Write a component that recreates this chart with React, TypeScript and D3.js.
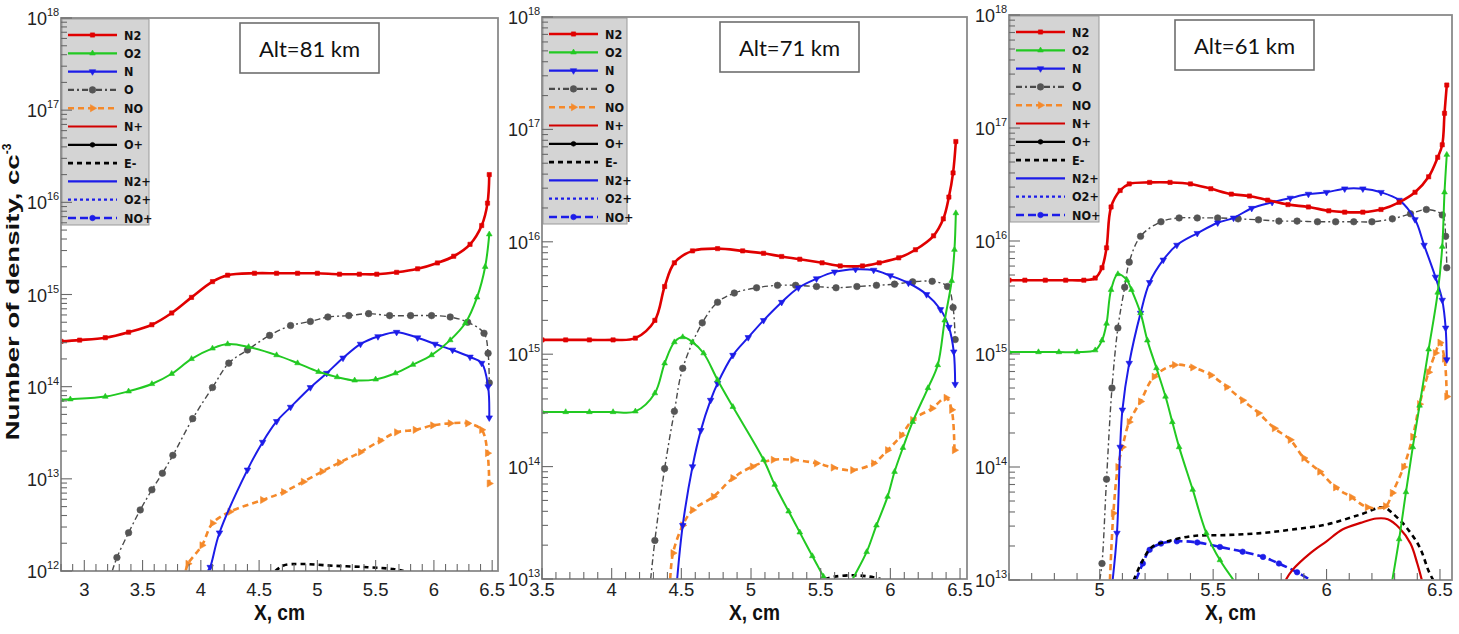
import React from 'react';
import * as d3 from 'd3';

type Pt = [number, number | null];

// ---------- Alt = 81 km ----------
const a81_N2: Pt[] = [[2.8,3.1e14],[2.96,3.2e14],[3.18,3.4e14],[3.38,3.9e14],[3.58,4.7e14],[3.75,6.3e14],[3.92,9.3e14],[4.10,1.38e15],[4.23,1.62e15],[4.46,1.7e15],[4.65,1.7e15],[4.83,1.7e15],[5.00,1.7e15],[5.19,1.66e15],[5.36,1.66e15],[5.51,1.66e15],[5.68,1.74e15],[5.86,1.9e15],[6.03,2.2e15],[6.17,2.6e15],[6.31,3.5e15],[6.41,5.6e15],[6.46,9.8e15],[6.475,2.0e16]];
const a81_O2: Pt[] = [[2.8,7.2e13],[2.88,7.3e13],[3.18,7.8e13],[3.38,8.9e13],[3.58,1.07e14],[3.75,1.38e14],[3.92,2.0e14],[4.10,2.6e14],[4.23,2.9e14],[4.41,2.7e14],[4.65,2.2e14],[4.83,1.8e14],[5.01,1.45e14],[5.17,1.27e14],[5.32,1.17e14],[5.50,1.2e14],[5.67,1.4e14],[5.82,1.73e14],[5.98,2.2e14],[6.14,3.2e14],[6.27,4.9e14],[6.37,9.3e14],[6.44,2.0e15],[6.475,4.5e15]];
const a81_N: Pt[] = [[4.06,1e12],[4.08,1.1e12],[4.16,2.6e12],[4.40,1.25e13],[4.53,2.5e13],[4.65,4.2e13],[4.77,6.0e13],[4.94,9.8e13],[5.08,1.4e14],[5.22,2.05e14],[5.37,2.9e14],[5.52,3.5e14],[5.68,3.9e14],[5.86,3.4e14],[6.01,2.9e14],[6.16,2.5e14],[6.31,2.1e14],[6.41,1.8e14],[6.465,1.0e14],[6.475,4.6e13]];
const a81_O: Pt[] = [[3.24,1e12],[3.28,1.4e12],[3.38,2.6e12],[3.48,4.6e12],[3.58,7.6e12],[3.67,1.15e13],[3.76,1.8e13],[3.93,4.5e13],[4.10,9.8e13],[4.24,1.8e14],[4.40,2.5e14],[4.59,3.6e14],[4.77,4.6e14],[4.94,5.1e14],[5.09,5.7e14],[5.27,5.9e14],[5.44,6.2e14],[5.62,5.9e14],[5.80,5.9e14],[5.98,5.9e14],[6.14,5.7e14],[6.29,5.0e14],[6.43,3.8e14],[6.465,2.3e14],[6.475,1.1e14]];
const a81_NO: Pt[] = [[3.87,1e12],[3.89,1.2e12],[4.01,1.9e12],[4.10,3.3e12],[4.25,4.4e12],[4.53,5.9e12],[4.71,7.2e12],[4.88,9.3e12],[5.04,1.2e13],[5.19,1.5e13],[5.37,1.95e13],[5.54,2.6e13],[5.68,3.2e13],[5.84,3.4e13],[5.99,3.8e13],[6.14,4.0e13],[6.29,4.0e13],[6.41,3.4e13],[6.46,1.9e13],[6.475,8.9e12]];
const a81_E: Pt[] = [[4.64,1.0e12],[4.71,1.15e12],[4.86,1.19e12],[5.14,1.14e12],[5.43,1.1e12],[5.65,1.05e12],[5.74,1.0e12]];

// ---------- Alt = 71 km ----------
const a71_N2: Pt[] = [[3.5,1.34e15],[3.67,1.34e15],[3.84,1.34e15],[4.01,1.34e15],[4.17,1.39e15],[4.31,2.0e15],[4.38,4.0e15],[4.45,6.5e15],[4.58,8.3e15],[4.76,8.7e15],[4.94,8.3e15],[5.09,7.9e15],[5.22,7.4e15],[5.35,7.0e15],[5.51,6.5e15],[5.64,6.1e15],[5.80,6.1e15],[5.92,6.5e15],[6.06,7.2e15],[6.18,8.5e15],[6.31,1.13e16],[6.38,1.6e16],[6.42,2.5e16],[6.45,4.1e16],[6.47,7.8e16]];
const a71_O2: Pt[] = [[3.5,3.06e14],[3.67,3.06e14],[3.84,3.06e14],[4.01,3.06e14],[4.17,3.1e14],[4.31,4.5e14],[4.38,8.3e14],[4.45,1.28e15],[4.51,1.42e15],[4.58,1.28e15],[4.66,1.02e15],[4.76,5.9e14],[4.87,3.4e14],[5.09,1.15e14],[5.17,6.9e13],[5.27,4.0e13],[5.35,2.6e13],[5.44,1.6e13],[5.52,1.05e13],[5.63,5.8e12],[5.73,1e13],[5.83,1.74e13],[5.90,3.0e13],[5.98,5.4e13],[6.03,9.0e13],[6.09,1.47e14],[6.16,2.5e14],[6.27,5.0e14],[6.34,8.0e14],[6.39,2.0e15],[6.44,4.5e15],[6.46,8.5e15],[6.47,1.8e16]];
const a71_N: Pt[] = [[4.47,1e13],[4.51,3.0e13],[4.58,1.0e14],[4.64,2.1e14],[4.71,3.9e14],[4.76,5.5e14],[4.87,9.8e14],[4.98,1.41e15],[5.09,2.0e15],[5.22,2.9e15],[5.34,3.9e15],[5.47,4.7e15],[5.60,5.4e15],[5.75,5.7e15],[5.88,5.6e15],[6.00,5.0e15],[6.13,4.3e15],[6.26,3.4e15],[6.36,2.5e15],[6.42,1.74e15],[6.455,1.05e15],[6.465,5.4e14]];
const a71_O: Pt[] = [[4.28,1e13],[4.31,2.2e13],[4.38,9.6e13],[4.45,3.1e14],[4.51,7.5e14],[4.65,1.9e15],[4.76,2.9e15],[4.88,3.5e15],[5.04,3.9e15],[5.19,4.1e15],[5.32,4.1e15],[5.47,4.0e15],[5.61,3.9e15],[5.76,4.0e15],[5.90,4.1e15],[6.03,4.2e15],[6.16,4.4e15],[6.30,4.45e15],[6.41,4.0e15],[6.45,2.6e15],[6.465,1.35e15]];
const a71_NO: Pt[] = [[4.42,1e13],[4.44,1.7e13],[4.51,3.0e13],[4.58,4.1e13],[4.73,5.4e13],[4.87,7.9e13],[5.01,1.0e14],[5.16,1.15e14],[5.30,1.15e14],[5.47,1.07e14],[5.59,9.8e13],[5.73,9.3e13],[5.88,1.07e14],[5.98,1.4e14],[6.08,1.9e14],[6.16,2.6e14],[6.30,3.3e14],[6.40,4.1e14],[6.44,3.2e14],[6.46,1.4e14]];
const a71_E: Pt[] = [[5.53,1e13],[5.60,1.05e13],[5.73,1.08e13],[5.85,1.05e13],[5.93,1e13]];

// ---------- Alt = 61 km ----------
const a61_N2: Pt[] = [[4.6,4.5e15],[4.67,4.5e15],[4.76,4.5e15],[4.85,4.5e15],[4.93,4.5e15],[4.98,4.7e15],[5.01,5.8e15],[5.03,8.7e15],[5.05,2.0e16],[5.09,2.8e16],[5.13,3.2e16],[5.22,3.3e16],[5.31,3.3e16],[5.40,3.2e16],[5.49,2.9e16],[5.58,2.6e16],[5.66,2.5e16],[5.74,2.3e16],[5.83,2.1e16],[5.92,2.0e16],[6.01,1.85e16],[6.08,1.8e16],[6.16,1.8e16],[6.24,1.9e16],[6.32,2.2e16],[6.39,2.7e16],[6.45,3.7e16],[6.49,5.5e16],[6.51,7.1e16],[6.52,1.35e17],[6.53,2.4e17]];
const a61_O2: Pt[] = [[4.6,1.04e15],[4.73,1.04e15],[4.82,1.04e15],[4.90,1.04e15],[4.98,1.08e15],[5.01,1.32e15],[5.03,1.86e15],[5.05,3.7e15],[5.08,5.1e15],[5.12,4.5e15],[5.14,3.7e15],[5.18,2.3e15],[5.21,1.32e15],[5.25,7.5e14],[5.29,4.2e14],[5.32,2.5e14],[5.35,1.5e14],[5.41,6.3e13],[5.47,2.6e13],[5.53,1.5e13],[5.59,1e13],[5.94,null],[6.29,1e13],[6.32,2.3e13],[6.35,6.0e13],[6.38,1.5e14],[6.41,3.5e14],[6.45,1.1e15],[6.49,3.5e15],[6.51,8.9e15],[6.52,2.7e16],[6.53,5.8e16]];
const a61_N: Pt[] = [[5.057,1e13],[5.076,2.6e13],[5.09,1.5e14],[5.10,3.2e14],[5.13,8.3e14],[5.18,2.3e15],[5.22,4.3e15],[5.28,6.8e15],[5.34,9.2e15],[5.43,1.17e16],[5.52,1.45e16],[5.59,1.6e16],[5.67,1.95e16],[5.76,2.2e16],[5.84,2.4e16],[5.92,2.6e16],[6.00,2.7e16],[6.08,2.9e16],[6.16,2.9e16],[6.24,2.7e16],[6.32,2.3e16],[6.39,1.55e16],[6.43,9.2e15],[6.48,4.8e15],[6.51,3.0e15],[6.525,1.7e15],[6.53,8.9e14]];
const a61_O: Pt[] = [[5.00,1e13],[5.01,1.4e13],[5.03,7.8e13],[5.054,5.0e14],[5.08,1.7e15],[5.11,3.9e15],[5.13,6.5e15],[5.18,1.1e16],[5.27,1.48e16],[5.35,1.6e16],[5.43,1.6e16],[5.52,1.6e16],[5.61,1.57e16],[5.70,1.54e16],[5.79,1.5e16],[5.87,1.5e16],[5.96,1.48e16],[6.04,1.48e16],[6.12,1.48e16],[6.20,1.48e16],[6.29,1.57e16],[6.37,1.74e16],[6.44,1.9e16],[6.51,1.7e16],[6.525,1.1e16],[6.53,5.8e15]];
const a61_NO: Pt[] = [[5.045,1e13],[5.06,3.9e13],[5.08,1.0e14],[5.10,1.5e14],[5.13,2.5e14],[5.18,3.8e14],[5.24,6.3e14],[5.33,8.0e14],[5.41,7.6e14],[5.49,6.5e14],[5.56,5.1e14],[5.63,3.9e14],[5.70,3.0e14],[5.77,2.2e14],[5.84,1.74e14],[5.90,1.2e14],[5.97,9.1e13],[6.04,6.6e13],[6.11,5.4e13],[6.18,4.4e13],[6.26,4.5e13],[6.29,5.9e13],[6.34,1.0e14],[6.38,1.85e14],[6.41,3.6e14],[6.45,6.9e14],[6.48,1.02e15],[6.50,1.26e15],[6.52,9.1e14],[6.53,4.2e14]];
const a61_E: Pt[] = [[5.15,1e13],[5.19,1.5e13],[5.23,1.96e13],[5.30,2.2e13],[5.41,2.45e13],[5.56,2.5e13],[5.71,2.6e13],[5.85,2.8e13],[6.00,3.1e13],[6.15,3.8e13],[6.25,4.4e13],[6.29,3.9e13],[6.35,2.95e13],[6.41,1.96e13],[6.45,1.2e13],[6.47,1e13]];
const a61_Nplus: Pt[] = [[5.82,1e13],[5.85,1.23e13],[5.93,1.74e13],[6.00,2.2e13],[6.07,2.8e13],[6.15,3.2e13],[6.22,3.5e13],[6.27,3.45e13],[6.32,2.9e13],[6.37,2.1e13],[6.40,1.4e13],[6.42,1e13]];
const a61_NOplus: Pt[] = [[5.16,1e13],[5.19,1.4e13],[5.22,1.85e13],[5.27,2.1e13],[5.34,2.2e13],[5.43,2.15e13],[5.53,1.96e13],[5.63,1.78e13],[5.72,1.6e13],[5.79,1.4e13],[5.87,1.17e13],[5.93,1e13]];

// ---------- ticks / labels ----------
const xMajor81 = [3, 3.5, 4, 4.5, 5, 5.5, 6, 6.5];
const xMajor71 = [3.5, 4, 4.5, 5, 5.5, 6, 6.5];
const xMajor61 = [5, 5.5, 6, 6.5];
const yExp81 = [12, 13, 14, 15, 16, 17, 18];
const yExp71 = [13, 14, 15, 16, 17, 18];
const yExp61 = [13, 14, 15, 16, 17, 18];
const altLabels = ['Alt=81 km', 'Alt=71 km', 'Alt=61 km'];
const legendLabels = ['N2', 'O2', 'N', 'O', 'NO', 'N+', 'O+', 'E-', 'N2+', 'O2+', 'NO+'];

type Style = { color: string; width: number; dash: string | null; marker: string | null; msize: number; mcolor?: string };
const styles: Record<string, Style> = {
  'N2': { color: '#e00000', width: 2.6, dash: null, marker: 'square', msize: 18 },
  'O2': { color: '#22c922', width: 2, dash: null, marker: 'triUp', msize: 14 },
  'N': { color: '#1c1ce8', width: 2, dash: null, marker: 'triDown', msize: 18 },
  'O': { color: '#4a4a4a', width: 1.4, dash: '6,3,2,3', marker: 'circle', msize: 34, mcolor: '#555' },
  'NO': { color: '#f5892a', width: 2.6, dash: '6,4', marker: 'triRight', msize: 22 },
  'N+': { color: '#d10000', width: 2.2, dash: null, marker: null, msize: 0 },
  'O+': { color: '#000000', width: 2.2, dash: null, marker: 'circle', msize: 18 },
  'E-': { color: '#000000', width: 2.6, dash: '5,4', marker: null, msize: 0 },
  'N2+': { color: '#1c1ce8', width: 2.2, dash: null, marker: null, msize: 0 },
  'O2+': { color: '#1c1ce8', width: 2.2, dash: '3,3', marker: null, msize: 0 },
  'NO+': { color: '#1c1ce8', width: 2.6, dash: '8,4', marker: 'circle', msize: 24 },
};

type Panel = {
  left: number; right: number; top: number; bottom: number;
  xDomain: [number, number]; yDomain: [number, number];
  xMajor: number[]; yExp: number[]; alt: string; altX: number; altY: number; legendW: number;
  series: [string, Pt[]][];
};

const panels: Panel[] = [
  { left: 61, right: 498, top: 18, bottom: 571, xDomain: [2.8, 6.55], yDomain: [1e12, 1e18], xMajor: xMajor81, yExp: yExp81, alt: altLabels[0], altX: 240, altY: 23, legendW: 87,
    series: [['E-', a81_E], ['NO', a81_NO], ['O', a81_O], ['N', a81_N], ['O2', a81_O2], ['N2', a81_N2]] },
  { left: 542, right: 967, top: 17, bottom: 579, xDomain: [3.5, 6.55], yDomain: [1e13, 1e18], xMajor: xMajor71, yExp: yExp71, alt: altLabels[1], altX: 720, altY: 22, legendW: 84,
    series: [['E-', a71_E], ['NO', a71_NO], ['O', a71_O], ['N', a71_N], ['O2', a71_O2], ['N2', a71_N2]] },
  { left: 1009, right: 1452, top: 15, bottom: 580, xDomain: [4.6, 6.553], yDomain: [1e13, 1e18], xMajor: xMajor61, yExp: yExp61, alt: altLabels[2], altX: 1175, altY: 20, legendW: 89,
    series: [['NO+', a61_NOplus], ['N+', a61_Nplus], ['E-', a61_E], ['NO', a61_NO], ['O', a61_O], ['N', a61_N], ['O2', a61_O2], ['N2', a61_N2]] },
];

const FONT = "'Liberation Sans', Arial, sans-serif";
const NARROW = "'Liberation Sans Narrow', 'DejaVu Sans Condensed', 'Liberation Sans', Arial, sans-serif";

function symbolPath(kind: string, size: number): { d: string; rot: number } {
  let t: any = d3.symbolCircle, rot = 0;
  if (kind === 'square') t = d3.symbolSquare;
  if (kind === 'triUp') t = d3.symbolTriangle;
  if (kind === 'triDown') { t = d3.symbolTriangle; rot = 180; }
  if (kind === 'triRight') { t = d3.symbolTriangle; rot = 90; }
  return { d: d3.symbol().type(t).size(size)() as string, rot };
}

function Marker({ kind, size, color, x, y }: { kind: string; size: number; color: string; x: number; y: number }) {
  const s = symbolPath(kind, size);
  return <path d={s.d} transform={`translate(${x},${y}) rotate(${s.rot})`} fill={color} stroke={color} strokeWidth={0.6} />;
}

function PanelView({ p, idx }: { p: Panel; idx: number }) {
  const x = d3.scaleLinear().domain(p.xDomain).range([p.left, p.right]);
  const y = d3.scaleLog().domain(p.yDomain).range([p.bottom, p.top]);
  const line = d3.line<Pt>()
    .defined(d => d[1] != null)
    .x(d => x(d[0]))
    .y(d => y(d[1] as number))
    .curve(d3.curveCatmullRom.alpha(0.5));
  const clipId = `clip${idx}`;
  const minors: number[] = [];
  for (let i = Math.ceil(p.xDomain[0] * 10 - 1e-6); i <= Math.floor(p.xDomain[1] * 10 + 1e-6); i++) minors.push(i / 10);
  const yMinor: number[] = [];
  p.yExp.forEach(e => { for (let m = 2; m <= 9; m++) { const v = m * Math.pow(10, e); if (v < p.yDomain[1]) yMinor.push(v); } });
  const rowStep = 18.3;
  return (
    <g>
      <defs>
        <clipPath id={clipId}><rect x={p.left} y={p.top} width={p.right - p.left} height={p.bottom - p.top} /></clipPath>
      </defs>
      <g clipPath={`url(#${clipId})`}>
        {p.series.map(([k, data]) => {
          const st = styles[k];
          return (
            <g key={k}>
              <path d={line(data) || ''} fill="none" stroke={st.color} strokeWidth={st.width}
                strokeDasharray={st.dash || undefined} strokeLinejoin="round" />
              {st.marker && data.filter(d => d[1] != null && (d[1] as number) > p.yDomain[0] * 1.02).map((d, i) => (
                <Marker key={i} kind={st.marker as string} size={st.msize} color={st.mcolor || st.color} x={x(d[0])} y={y(d[1] as number)} />
              ))}
            </g>
          );
        })}
      </g>
      <rect x={p.left + 1} y={p.top + 1} width={p.legendW} height={206} fill="#d4d4d4" stroke="#9a9a9a" strokeWidth={1} />
      {legendLabels.map((lab, i) => {
        const st = styles[lab];
        const ry = p.top + 17 + i * rowStep;
        const x0 = p.left + 7, x1 = p.left + 56;
        return (
          <g key={lab}>
            <line x1={x0} x2={x1} y1={ry} y2={ry} stroke={st.color} strokeWidth={Math.max(st.width, 2.2)} strokeDasharray={st.dash || undefined} />
            {st.marker && <Marker kind={st.marker} size={st.msize} color={st.mcolor || st.color} x={(x0 + x1) / 2} y={ry} />}
            <text x={p.left + 63} y={ry + 4.5} fontFamily={NARROW} fontWeight="bold" fontSize={12.5} fill="#111">{lab}</text>
          </g>
        );
      })}
      <rect x={p.left} y={p.top} width={p.right - p.left} height={p.bottom - p.top} fill="none" stroke="#8a8a8a" strokeWidth={1.8} />
      {minors.map(v => {
        const major = p.xMajor.some(m => Math.abs(m - v) < 1e-6);
        return <line key={v} x1={x(v)} x2={x(v)} y1={p.bottom} y2={p.bottom - (major ? 11 : 7)} stroke="#6a6a6a" strokeWidth={1.1} />;
      })}
      {p.xMajor.map(v => (
        <text key={v} x={x(v)} y={596} textAnchor="middle" fontFamily={FONT} fontSize={18.5} fill="#222">{String(v)}</text>
      ))}
      {yMinor.map(v => <line key={v} x1={p.left} x2={p.left + 6} y1={y(v)} y2={y(v)} stroke="#6a6a6a" strokeWidth={1.1} />)}
      {p.yExp.map(e => {
        const yy = y(Math.pow(10, e));
        return (
          <g key={e}>
            <line x1={p.left} x2={p.left + 11} y1={yy} y2={yy} stroke="#6a6a6a" strokeWidth={1.1} />
            <text x={p.left - 14} y={yy + 7} textAnchor="end" fontFamily={FONT} fontSize={18} fill="#222">10</text>
            <text x={p.left - 14} y={yy - 2} textAnchor="start" fontFamily={FONT} fontSize={11} fill="#222">{e}</text>
          </g>
        );
      })}
      <rect x={p.altX} y={p.altY} width={139} height={50} fill="#fff" stroke="#6e6e6e" strokeWidth={1.6} />
      <text x={p.altX + 69.5} y={p.altY + 34} textAnchor="middle" fontFamily="Lato, 'Open Sans', sans-serif" fontSize={22} fill="#111">{p.alt}</text>
      <text x={(p.left + p.right) / 2} y={620} textAnchor="middle" fontFamily={FONT} fontWeight="bold" fontSize={22}
        textLength={51} lengthAdjust="spacingAndGlyphs" fill="#111">X, cm</text>
    </g>
  );
}

export default function App() {
  return (
    <svg width={1459} height={634} style={{ position: 'absolute', left: 0, top: 0, background: '#fff' }}>
      <rect x={0} y={0} width={1459} height={634} fill="#fff" />
      {panels.map((p, i) => <PanelView key={i} p={p} idx={i} />)}
      <text transform="translate(19,292) rotate(-90)" textAnchor="middle" fontFamily={FONT} fontWeight="bold" fontSize={19} fill="#111">
        <tspan textLength={286} lengthAdjust="spacingAndGlyphs">Number of density, cc</tspan>
        <tspan dy={-8} fontSize={12}>-3</tspan>
      </text>
    </svg>
  );
}
